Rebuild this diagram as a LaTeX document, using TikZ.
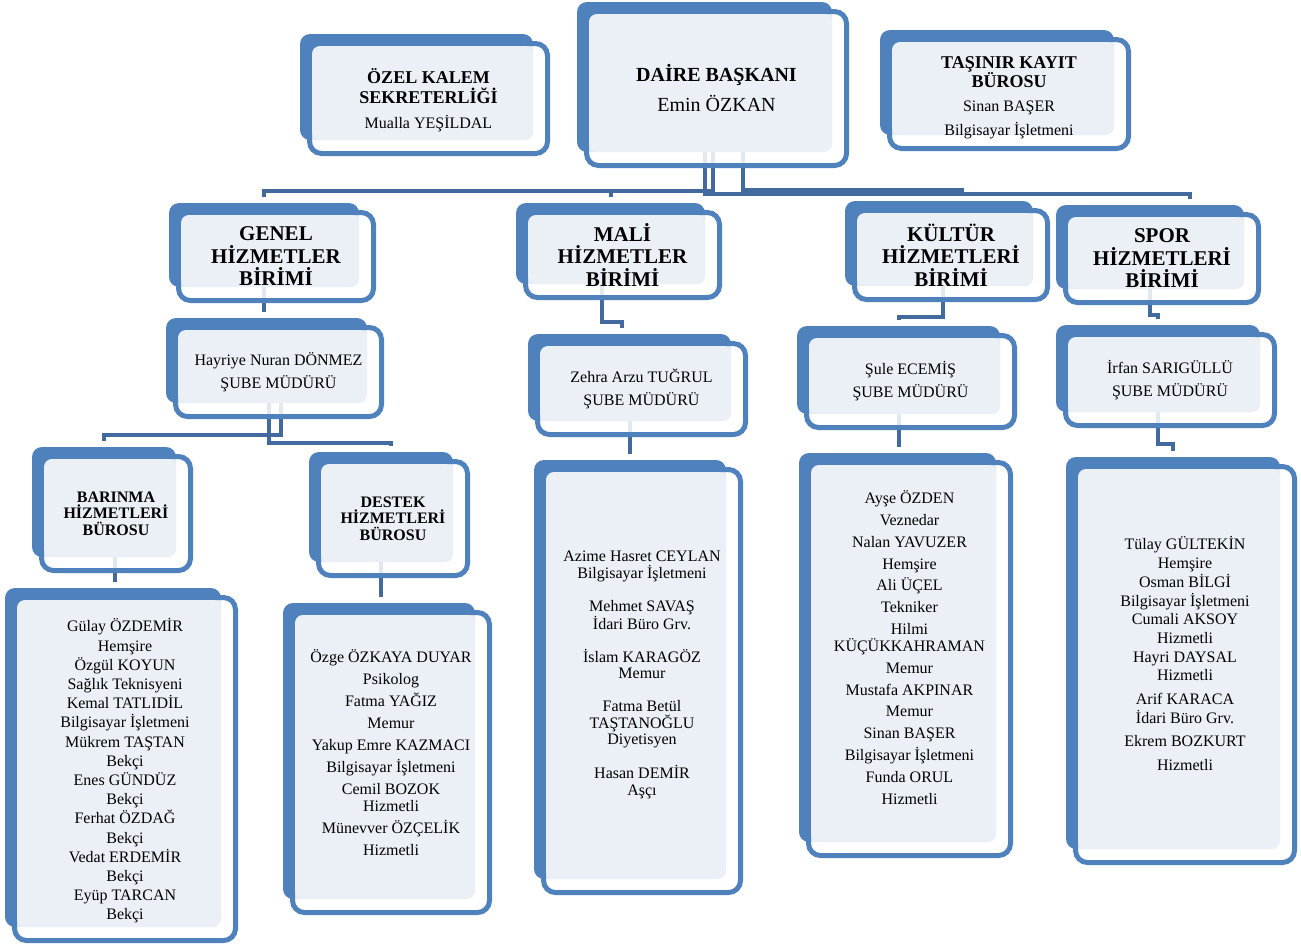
\documentclass[tikz,border=0pt]{standalone}
\usepackage{fontspec}
\setmainfont{Liberation Serif}
\usepackage{tikz}
\usetikzlibrary{fit, calc}

\definecolor{boxblue}{RGB}{79,129,189}
\definecolor{boxfill}{RGB}{235,240,247}
\definecolor{linkblue}{RGB}{66,106,158}

\pgfdeclarelayer{background}
\pgfsetlayers{background,main}

\tikzset{
  back/.style={fill=boxblue, rounded corners=10pt},
  frame/.style={draw=boxblue, line width=5pt, fill=white, fill opacity=0.85, rounded corners=12pt},
  inner/.style={fill=boxfill, rounded corners=8pt},
  link/.style={draw=linkblue, line width=4pt, shorten >=6pt},
  txt/.style={align=center, inner sep=0pt, text=black},
  unit/.style={txt, font=\bfseries\fontsize{21}{22.5}\selectfont},
  office/.style={txt, font=\bfseries\fontsize{16}{16.5}\selectfont},
  mgr/.style={txt, font=\fontsize{16}{23}\selectfont},
  staff/.style={txt, font=\fontsize{16}{19.2}\selectfont}
}

% back plate (x0,y0)-(x1,y1), frame pushed out to the lower right, text in the frame centre
\newcommand{\orgbox}[7][]{%
  \fill[back] (#3,#4) rectangle (#5,#6);
  \draw[frame] ({#3+9.5},{#4+9.5}) rectangle ({#5+14.5},{#6+13.5});
  \fill[inner] ({#3+12},{#4+12}) rectangle (#5,#6);
  \node[fit={(#3,#4) (#5,#6)}, inner sep=0pt, outer sep=0pt] (#2) {};
  \node[txt, #1] (#2-txt) at ({(#3+#5)/2+12},{(#4+#6)/2+11.5}) {#7};
}

\begin{document}
\begin{tikzpicture}[x=1pt, y=-1pt]
    \useasboundingbox (0,0) rectangle (1301,951);

    % --- TOP ROW ---
    \orgbox[font=\fontsize{18}{20}\selectfont, yshift=-1.5pt]{ozel}{300}{34}{533}{140}{\textbf{ÖZEL KALEM}\\\textbf{SEKRETERLİĞİ}\\[5pt]{\fontsize{16}{20}\selectfont Mualla YEŞİLDAL}}
    \orgbox[font=\fontsize{20}{30}\selectfont]{dai}{577}{2}{832}{152}{\textbf{DAİRE BAŞKANI}\\Emin ÖZKAN}
    \orgbox[font=\fontsize{18}{19}\selectfont, yshift=-4pt]{tas}{880}{30}{1114}{135}{\textbf{TAŞINIR KAYIT}\\\textbf{BÜROSU}\\[5pt]{\fontsize{16}{19}\selectfont Sinan BAŞER}\\[5pt]{\fontsize{16}{19}\selectfont Bilgisayar İşletmeni}}

    % --- UNITS ---
    \orgbox[unit]{gen}{169}{203}{359}{287}{GENEL\\HİZMETLER\\BİRİMİ}
    \orgbox[unit]{mal}{516}{203}{705}{284}{MALİ\\HİZMETLER\\BİRİMİ}
    \orgbox[unit]{kul}{845}{201}{1033}{286}{KÜLTÜR\\HİZMETLERİ\\BİRİMİ}
    \orgbox[unit]{spo}{1056}{205}{1244}{289}{SPOR\\HİZMETLERİ\\BİRİMİ}

    % --- BRANCH MANAGERS ---
    \orgbox[mgr]{hay}{166}{318}{367}{403}{Hayriye Nuran DÖNMEZ\\ŞUBE MÜDÜRÜ}
    \orgbox[mgr]{zeh}{528}{334}{731}{421}{Zehra Arzu TUĞRUL\\ŞUBE MÜDÜRÜ}
    \orgbox[mgr]{sul}{797}{326}{1000}{414}{Şule ECEMİŞ\\ŞUBE MÜDÜRÜ}
    \orgbox[mgr]{irf}{1056}{325}{1260}{412}{İrfan SARIGÜLLÜ\\ŞUBE MÜDÜRÜ}

    % --- OFFICES UNDER GENEL ---
    \orgbox[office]{bar}{32}{447}{176}{557}{BARINMA\\HİZMETLERİ\\BÜROSU}
    \orgbox[office]{des}{309}{452}{453}{562}{DESTEK\\HİZMETLERİ\\BÜROSU}

    % --- STAFF LISTS ---
    \orgbox[staff, yshift=-2pt]{blist}{5}{588}{221}{927}{Gülay ÖZDEMİR\\Hemşire\\Özgül KOYUN\\Sağlık Teknisyeni\\Kemal TATLIDİL\\Bilgisayar İşletmeni\\Mükrem TAŞTAN\\Bekçi\\Enes GÜNDÜZ\\Bekçi\\Ferhat ÖZDAĞ\\Bekçi\\Vedat ERDEMİR\\Bekçi\\Eyüp TARCAN\\Bekçi}
    \orgbox[staff, font=\fontsize{16}{22}\selectfont, yshift=9.5pt]{dlist}{283}{603}{475}{899}{Özge ÖZKAYA DUYAR\\Psikolog\\Fatma YAĞIZ\\Memur\\Yakup Emre KAZMACI\\Bilgisayar İşletmeni\\Cemil BOZOK\\[-5pt]Hizmetli\\Münevver ÖZÇELİK\\Hizmetli}
    \orgbox[staff, font=\fontsize{16}{16.5}\selectfont, yshift=6pt]{mlist}{534}{460}{726}{879}{Azime Hasret CEYLAN\\Bilgisayar İşletmeni\\[16.5pt]Mehmet SAVAŞ\\İdari Büro Grv.\\[16.5pt]İslam KARAGÖZ\\Memur\\[16.5pt]Fatma Betül\\TAŞTANOĞLU\\Diyetisyen\\[16.5pt]Hasan DEMİR\\Aşçı}
    \orgbox[staff, font=\fontsize{16}{21.8}\selectfont, yshift=11.5pt]{klist}{799}{453}{996}{842}{Ayşe ÖZDEN\\Veznedar\\Nalan YAVUZER\\Hemşire\\Ali ÜÇEL\\Tekniker\\Hilmi\\[-4.8pt]KÜÇÜKKAHRAMAN\\Memur\\Mustafa AKPINAR\\Memur\\Sinan BAŞER\\Bilgisayar İşletmeni\\Funda ORUL\\Hizmetli}
    \orgbox[staff, font=\fontsize{16}{18.7}\selectfont, yshift=11pt]{slist}{1066}{457}{1280}{849}{Tülay GÜLTEKİN\\Hemşire\\Osman BİLGİ\\Bilgisayar İşletmeni\\Cumali AKSOY\\Hizmetli\\Hayri DAYSAL\\Hizmetli\\[5pt]Arif KARACA\\İdari Büro Grv.\\[5pt]Ekrem BOZKURT\\[4.5pt]Hizmetli}

    % --- CONNECTORS (behind the boxes) ---
    \begin{pgfonlayer}{background}
        % from the head of department
        \draw[link] (dai.south) -- ++(0,39) -| (gen.north);
        \draw[link] ([xshift=8pt]dai.south) -- ++(0,39) -| (mal.north);
        \draw[link] ([xshift=38pt]dai.south) -- ++(0,38) -| ([xshift=23pt]kul.north);
        \draw[link] (dai.south) -- ++(0,42) -| ([xshift=40pt]spo.north);

        % Genel branch
        \draw[link] (gen.south) -- (gen.south |- hay.north);
        \draw[link] ([xshift=14pt]hay.south) -- ++(0,32) -| (bar.north);
        \draw[link] ([xshift=2pt]hay.south) -- ++(0,40) -| ([xshift=10pt]des.north);
        \draw[link] ([xshift=11pt]bar.south) -- ([xshift=11pt]bar.south |- blist.north);
        \draw[link] (des.south) -- (des.south |- dlist.north);

        % Mali branch
        \draw[link] ([xshift=-9pt]mal.south) -- ++(0,38) -| ([xshift=-8pt]zeh.north);
        \draw[link] (zeh.south) -- (zeh.south |- mlist.north);

        % Kultur branch
        \draw[link] ([xshift=4pt]kul.south) -- ++(0,31) -| (sul.north);
        \draw[link] (sul.south) -- (sul.south |- klist.north);

        % Spor branch
        \draw[link] (spo.south) -- ++(0,26) -| (irf.north);
        \draw[link] (irf.south) -- ++(0,32) -| (slist.north);
    \end{pgfonlayer}

\end{tikzpicture}
\end{document}
